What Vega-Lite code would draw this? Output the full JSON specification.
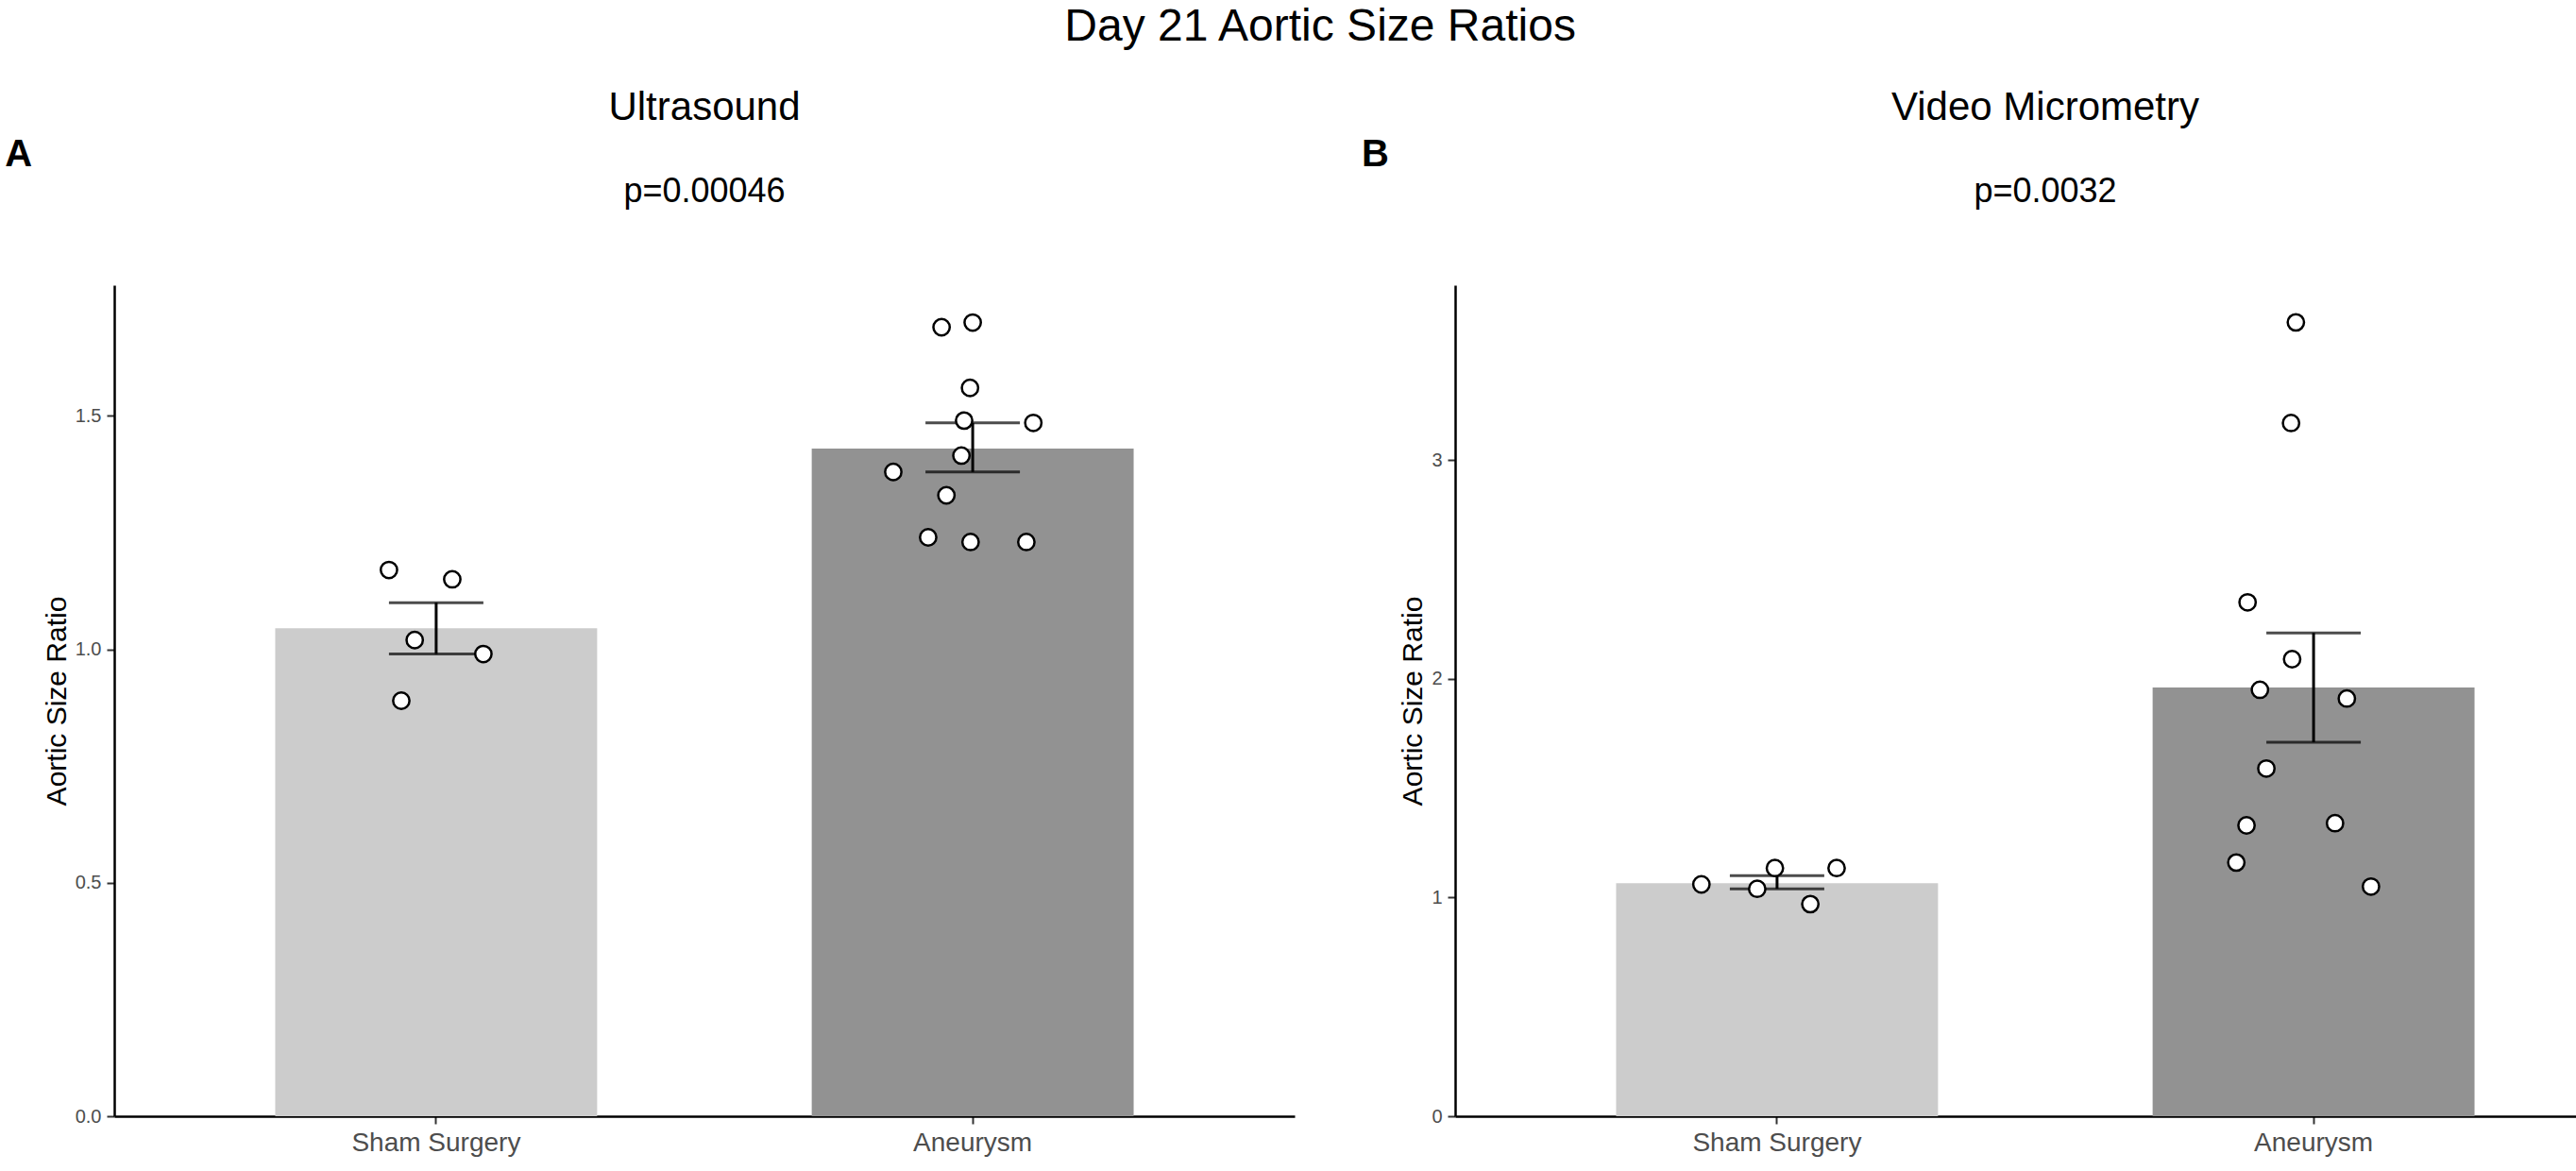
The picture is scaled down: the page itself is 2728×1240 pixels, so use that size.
{
  "$schema": "https://vega.github.io/schema/vega-lite/v6.json",
  "background": "white",
  "title": {"text": "Day 21 Aortic Size Ratios", "fontSize": 48, "font": "Liberation Sans", "fontWeight": "normal", "anchor": "middle", "offset": 40},
  "datasets": {
    "points": [
      {"panel": "A", "pos": -0.088, "value": 1.17},
      {"panel": "A", "pos": 0.03, "value": 1.15},
      {"panel": "A", "pos": -0.04, "value": 1.02},
      {"panel": "A", "pos": 0.088, "value": 0.99},
      {"panel": "A", "pos": -0.065, "value": 0.89},
      {"panel": "A", "pos": 0.942, "value": 1.69},
      {"panel": "A", "pos": 1.0, "value": 1.70},
      {"panel": "A", "pos": 0.995, "value": 1.56},
      {"panel": "A", "pos": 0.984, "value": 1.49},
      {"panel": "A", "pos": 1.113, "value": 1.485},
      {"panel": "A", "pos": 0.979, "value": 1.415},
      {"panel": "A", "pos": 0.852, "value": 1.38},
      {"panel": "A", "pos": 0.951, "value": 1.33},
      {"panel": "A", "pos": 0.917, "value": 1.24},
      {"panel": "A", "pos": 0.996, "value": 1.23},
      {"panel": "A", "pos": 1.1, "value": 1.23},
      {"panel": "B", "pos": -0.141, "value": 1.06},
      {"panel": "B", "pos": -0.037, "value": 1.04},
      {"panel": "B", "pos": -0.004, "value": 1.135},
      {"panel": "B", "pos": 0.111, "value": 1.135},
      {"panel": "B", "pos": 0.062, "value": 0.97},
      {"panel": "B", "pos": 0.967, "value": 3.63},
      {"panel": "B", "pos": 0.958, "value": 3.17},
      {"panel": "B", "pos": 0.877, "value": 2.35},
      {"panel": "B", "pos": 0.96, "value": 2.09},
      {"panel": "B", "pos": 0.9, "value": 1.95},
      {"panel": "B", "pos": 1.062, "value": 1.91},
      {"panel": "B", "pos": 0.912, "value": 1.59},
      {"panel": "B", "pos": 0.875, "value": 1.33},
      {"panel": "B", "pos": 1.04, "value": 1.34},
      {"panel": "B", "pos": 0.856, "value": 1.16},
      {"panel": "B", "pos": 1.107, "value": 1.05}
    ],
    "bars": [
      {"panel": "A", "group": "Sham Surgery", "mean": 1.045, "lo": 0.99, "hi": 1.10},
      {"panel": "A", "group": "Aneurysm", "mean": 1.43, "lo": 1.38, "hi": 1.485},
      {"panel": "B", "group": "Sham Surgery", "mean": 1.065, "lo": 1.04, "hi": 1.10},
      {"panel": "B", "group": "Aneurysm", "mean": 1.96, "lo": 1.71, "hi": 2.21}
    ]
  },
  "spacing": 70,
  "hconcat": [
    {
      "title": {"text": "A", "anchor": "start", "fontSize": 40, "fontWeight": "bold", "dy": 95, "dx": -40},
      "vconcat": [
        {
          "width": 1250,
          "height": 880,
          "title": {"text": "Ultrasound", "subtitle": "p=0.00046", "fontSize": 42, "subtitleFontSize": 36, "subtitlePadding": 50, "anchor": "middle", "fontWeight": "normal", "offset": 80},
          "resolve": {"scale": {"x": "independent"}},
          "layer": [
            {
              "data": {"name": "bars"},
              "transform": [{"filter": "datum.panel == 'A'"}],
              "layer": [
                {
                  "mark": {"type": "bar"},
                  "encoding": {
                    "y": {"field": "mean", "type": "quantitative", "title": "Aortic Size Ratio",
                          "scale": {"domain": [0, 1.78], "nice": false},
                          "axis": {"values": [0, 0.5, 1, 1.5], "format": ".1f"}},
                    "color": {"field": "group", "type": "nominal", "sort": ["Sham Surgery", "Aneurysm"], "scale": {"range": ["#cccccc", "#929292"]}, "legend": null}
                  }
                },
                {
                  "mark": {"type": "rule", "color": "black", "strokeWidth": 3},
                  "encoding": {"y": {"field": "lo", "type": "quantitative"}, "y2": {"field": "hi"}}
                },
                {
                  "mark": {"type": "tick", "color": "black", "size": 100, "thickness": 3, "orient": "horizontal"},
                  "encoding": {"y": {"field": "lo", "type": "quantitative"}}
                },
                {
                  "mark": {"type": "tick", "color": "black", "size": 100, "thickness": 3, "orient": "horizontal"},
                  "encoding": {"y": {"field": "hi", "type": "quantitative"}}
                }
              ],
              "encoding": {
                "x": {"field": "group", "type": "nominal", "sort": ["Sham Surgery", "Aneurysm"], "title": null,
                      "scale": {"paddingInner": 0.4, "paddingOuter": 0.3},
                      "axis": {"labelAngle": 0}}
              }
            },
            {
              "data": {"name": "points"},
              "transform": [{"filter": "datum.panel == 'A'"}],
              "mark": {"type": "point", "filled": true, "fill": "white", "stroke": "black", "strokeWidth": 2.5, "size": 300, "opacity": 1},
              "encoding": {
                "x": {"field": "pos", "type": "quantitative", "scale": {"domain": [-0.6, 1.6], "nice": false, "zero": false}, "axis": null},
                "y": {"field": "value", "type": "quantitative"}
              }
            }
          ]
        }
      ]
    },
    {
      "title": {"text": "B", "anchor": "start", "fontSize": 40, "fontWeight": "bold", "dy": 95, "dx": -40},
      "vconcat": [
        {
          "width": 1250,
          "height": 880,
          "title": {"text": "Video Micrometry", "subtitle": "p=0.0032", "fontSize": 42, "subtitleFontSize": 36, "subtitlePadding": 50, "anchor": "middle", "fontWeight": "normal", "offset": 80},
          "resolve": {"scale": {"x": "independent"}},
          "layer": [
            {
              "data": {"name": "bars"},
              "transform": [{"filter": "datum.panel == 'B'"}],
              "layer": [
                {
                  "mark": {"type": "bar"},
                  "encoding": {
                    "y": {"field": "mean", "type": "quantitative", "title": "Aortic Size Ratio",
                          "scale": {"domain": [0, 3.8], "nice": false},
                          "axis": {"values": [0, 1, 2, 3], "format": "d"}},
                    "color": {"field": "group", "type": "nominal", "sort": ["Sham Surgery", "Aneurysm"], "scale": {"range": ["#cccccc", "#929292"]}, "legend": null}
                  }
                },
                {
                  "mark": {"type": "rule", "color": "black", "strokeWidth": 3},
                  "encoding": {"y": {"field": "lo", "type": "quantitative"}, "y2": {"field": "hi"}}
                },
                {
                  "mark": {"type": "tick", "color": "black", "size": 100, "thickness": 3, "orient": "horizontal"},
                  "encoding": {"y": {"field": "lo", "type": "quantitative"}}
                },
                {
                  "mark": {"type": "tick", "color": "black", "size": 100, "thickness": 3, "orient": "horizontal"},
                  "encoding": {"y": {"field": "hi", "type": "quantitative"}}
                }
              ],
              "encoding": {
                "x": {"field": "group", "type": "nominal", "sort": ["Sham Surgery", "Aneurysm"], "title": null,
                      "scale": {"paddingInner": 0.4, "paddingOuter": 0.3},
                      "axis": {"labelAngle": 0}}
              }
            },
            {
              "data": {"name": "points"},
              "transform": [{"filter": "datum.panel == 'B'"}],
              "mark": {"type": "point", "filled": true, "fill": "white", "stroke": "black", "strokeWidth": 2.5, "size": 300, "opacity": 1},
              "encoding": {
                "x": {"field": "pos", "type": "quantitative", "scale": {"domain": [-0.6, 1.6], "nice": false, "zero": false}, "axis": null},
                "y": {"field": "value", "type": "quantitative"}
              }
            }
          ]
        }
      ]
    }
  ],
  "config": {
    "font": "Liberation Sans",
    "view": {"stroke": null},
    "axis": {"grid": false, "domainColor": "black", "domainWidth": 2.5, "tickColor": "#333333", "tickWidth": 2, "tickSize": 8,
             "labelFontSize": 20, "labelColor": "#4d4d4d", "titleFontSize": 30, "titleFontWeight": "normal", "titleColor": "black", "labelPadding": 6},
    "axisX": {"labelFontSize": 28},
    "title": {"color": "black"}
  }
}
